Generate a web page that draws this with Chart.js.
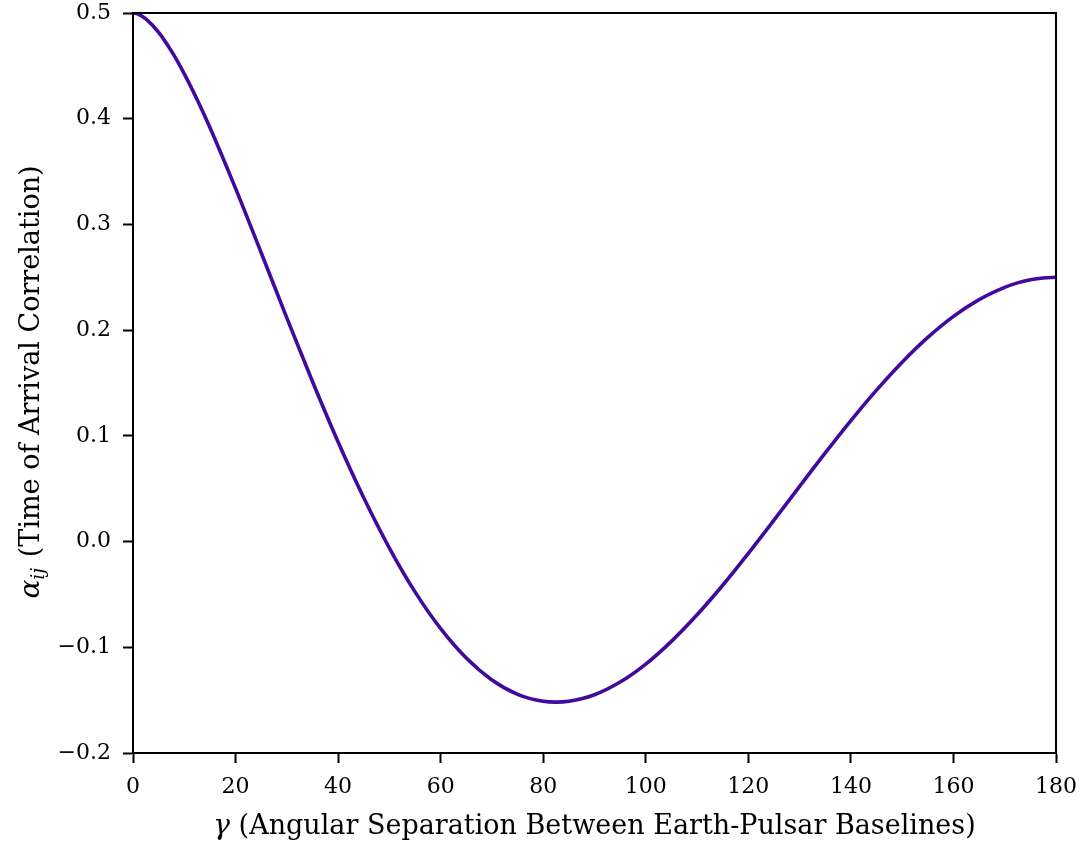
<!DOCTYPE html>
<html>
<head>
<meta charset="utf-8">
<script src="https://cdn.jsdelivr.net/npm/chart.js@4.4.0/dist/chart.umd.min.js"></script>
<style>
  html, body { margin: 0; padding: 0; background: #fff; }
  #wrap { width: 1086px; height: 846px; }
</style>
</head>
<body>
<div id="wrap"><canvas id="grafico"></canvas></div>
<script>
// angulo (graus) e correlacao
var gamma = [0, 1, 2.5, 5, 7.5, 10, 12.5, 15, 20, 25, 30, 35, 40, 45, 50, 55, 60, 65, 70, 75,
  80, 82.5, 85, 90, 95, 100, 105, 110, 115, 120, 125, 130, 135, 140, 145, 150, 155, 160, 165,
  170, 172.5, 175, 177.5, 180];
var alpha = [0.5, 0.4989, 0.4944, 0.4817, 0.4639, 0.4425, 0.4182, 0.3917, 0.3341, 0.2732,
  0.2116, 0.1514, 0.0942, 0.0414, -0.0061, -0.0476, -0.0824, -0.1102, -0.1309, -0.1445,
  -0.1511, -0.1519, -0.1511, -0.1449, -0.1329, -0.1159, -0.0944, -0.0693, -0.0413, -0.0111,
  0.0203, 0.0522, 0.0839, 0.1145, 0.1433, 0.1697, 0.1931, 0.2130, 0.2289, 0.2405, 0.2447,
  0.2476, 0.2494, 0.25];
var xTicks = [0, 20, 40, 60, 80, 100, 120, 140, 160, 180];
var yTicks = [-0.2, -0.1, 0.0, 0.1, 0.2, 0.3, 0.4, 0.5];

var fonte = "'DejaVu Serif', 'Liberation Serif', serif";

var pontos = [];
for (var i = 0; i < gamma.length; i++) {
  pontos.push({ x: gamma[i], y: alpha[i] });
}

function formatar(v) {
  var s = v.toFixed(1);
  return s.charAt(0) == "-" ? "\u2212" + s.slice(1) : s;
}

// moldura + titulos dos eixos com letras gregas em italico
var titulos = {
  id: "titulos",
  afterDraw: function (chart) {
    var ctx = chart.ctx;
    var area = chart.chartArea;
    ctx.save();
    ctx.strokeStyle = "#000";
    ctx.lineWidth = 2;
    ctx.strokeRect(area.left, area.top, area.right - area.left, area.bottom - area.top);

    ctx.fillStyle = "#000";
    ctx.textBaseline = "alphabetic";

    // eixo x
    var resto = " (Angular Separation Between Earth-Pulsar Baselines)";
    ctx.font = "italic 28px " + fonte;
    var wg = ctx.measureText("\u03b3").width;
    ctx.font = "27px " + fonte;
    var wr = ctx.measureText(resto).width;
    var x0 = (area.left + area.right) / 2 - (wg + wr) / 2;
    var yb = 834;
    ctx.font = "italic 28px " + fonte;
    ctx.fillText("\u03b3", x0, yb);
    ctx.font = "27px " + fonte;
    ctx.fillText(resto, x0 + wg, yb);

    // eixo y
    var texto = " (Time of Arrival Correlation)";
    ctx.translate(39, (area.top + area.bottom) / 2);
    ctx.rotate(-Math.PI / 2);
    ctx.font = "italic 28px " + fonte;
    var wa = ctx.measureText("\u03b1").width;
    ctx.font = "italic 19px " + fonte;
    var wij = ctx.measureText("ij").width;
    ctx.font = "27px " + fonte;
    var wt = ctx.measureText(texto).width;
    var s0 = -(wa + wij + wt) / 2;
    ctx.font = "italic 28px " + fonte;
    ctx.fillText("\u03b1", s0, 0);
    ctx.font = "italic 19px " + fonte;
    ctx.fillText("ij", s0 + wa, 5);
    ctx.font = "27px " + fonte;
    ctx.fillText(texto, s0 + wa + wij + 2, 0);
    ctx.restore();
  },
};

new Chart(grafico, {
  type: "line",
  data: {
    datasets: [
      {
        data: pontos,
        borderColor: "#42099f",
        borderWidth: 3.6,
        pointRadius: 0,
        fill: false,
        cubicInterpolationMode: "monotone",
      },
    ],
  },
  options: {
    responsive: true,
    maintainAspectRatio: false,
    animation: false,
    layout: {
      padding: { left: 0, right: 30, top: 13, bottom: 0 },
    },
    scales: {
      x: {
        type: "linear",
        min: 0,
        max: 180,
        afterFit: function (scale) {
          scale.height = 93;
          scale.paddingLeft = 0;
          scale.paddingRight = 0;
        },
        afterBuildTicks: function (scale) {
          scale.ticks = xTicks.map(function (v) { return { value: v }; });
        },
        border: { color: "#000", width: 2 },
        grid: {
          drawOnChartArea: false,
          color: "#000",
          tickColor: "#000",
          tickLength: 10,
          tickWidth: 2,
        },
        ticks: {
          color: "#000",
          padding: 11,
          maxRotation: 0,
          font: { family: fonte, size: 22 },
        },
      },
      y: {
        type: "linear",
        min: -0.2,
        max: 0.5,
        afterFit: function (scale) {
          scale.width = 133;
          scale.paddingTop = 0;
          scale.paddingBottom = 0;
        },
        afterBuildTicks: function (scale) {
          scale.ticks = yTicks.map(function (v) { return { value: v }; });
        },
        border: { color: "#000", width: 2 },
        grid: {
          drawOnChartArea: false,
          color: "#000",
          tickColor: "#000",
          tickLength: 10,
          tickWidth: 2,
        },
        ticks: {
          color: "#000",
          padding: 12,
          font: { family: fonte, size: 22 },
          callback: function (v) {
            return formatar(v);
          },
        },
      },
    },
    plugins: {
      legend: { display: false },
      tooltip: { enabled: false },
    },
  },
  plugins: [titulos],
});
</script>
</body>
</html>
